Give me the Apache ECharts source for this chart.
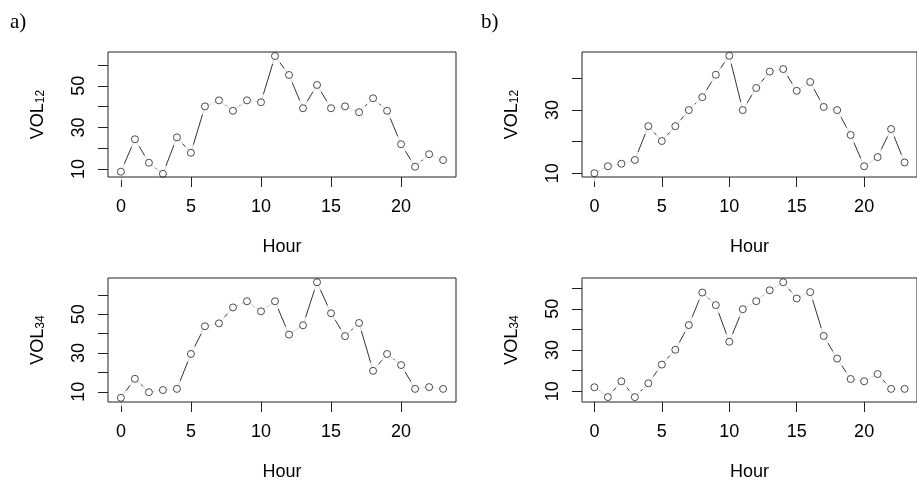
<!DOCTYPE html>
<html>
<head>
<meta charset="utf-8">
<script src="https://cdn.jsdelivr.net/npm/echarts@6/dist/echarts.min.js"></script>
<style>
  html, body { margin: 0; padding: 0; background: #fff; }
  #main { width: 917px; height: 482px; }
</style>
</head>
<body>
<div id="main"></div>
<script>
// hours of the day (x values)
const hours = [0, 1, 2, 3, 4, 5, 6, 7, 8, 9, 10, 11, 12, 13, 14, 15, 16, 17, 18, 19, 20, 21, 22, 23]

const volA12 = [8.7, 24.3, 13.0, 7.7, 25.2, 17.8, 40.1, 43.0, 38.0, 43.0, 42.1, 64.3,
  55.2, 39.2, 50.4, 39.2, 40.1, 37.3, 44.0, 38.0, 21.9, 11.1, 17.1, 14.3]
const volA34 = [6.9, 16.7, 9.8, 10.9, 11.5, 29.5, 43.8, 45.3, 53.5, 56.7, 51.5, 56.7,
  39.5, 44.3, 66.5, 50.5, 38.7, 45.5, 20.8, 29.5, 23.8, 11.5, 12.4, 11.5]
const volB12 = [10.0, 12.2, 13.0, 14.2, 24.9, 20.2, 24.9, 30.0, 34.1, 41.2, 47.2, 30.0,
  37.0, 42.2, 43.0, 36.1, 38.9, 31.0, 30.0, 22.1, 12.2, 15.1, 24.0, 13.4]
const volB34 = [11.9, 7.1, 14.8, 7.1, 13.8, 22.9, 30.1, 42.1, 57.9, 51.8, 34.0, 49.8,
  53.7, 59.0, 62.9, 55.0, 58.1, 36.8, 25.8, 15.9, 14.8, 18.3, 11.1, 11.1]

// tick marks and labelled ticks
const xTicks = [0, 5, 10, 15, 20]
const yTicks12A = [10, 20, 30, 40, 50, 60]
const yTicks12B = [10, 20, 30, 40]
const yTicks34 = [10, 20, 30, 40, 50, 60]
const yLabels12A = [10, 30, 50]
const yLabels12B = [10, 30]
const yLabels34 = [10, 30, 50]

// axis ranges
const xRange = [-0.92, 23.92]
const yRangeA12 = [6.15, 66.25]
const yRangeB12 = [8.8, 48.4]
const yRangeA34 = [4.73, 68.7]
const yRangeB34 = [4.73, 64.96]

const font = 'Liberation Sans'
const ink = '#222'

const panels = [
  { grid: { left: 108, top: 52, width: 348, height: 125 }, y: volA12, range: yRangeA12, ticks: yTicks12A, labels: yLabels12A, sub: '12' },
  { grid: { left: 582, top: 52, width: 348, height: 125 }, y: volB12, range: yRangeB12, ticks: yTicks12B, labels: yLabels12B, sub: '12' },
  { grid: { left: 108, top: 278, width: 348, height: 125 }, y: volA34, range: yRangeA34, ticks: yTicks34, labels: yLabels34, sub: '34' },
  { grid: { left: 582, top: 278, width: 348, height: 126 }, y: volB34, range: yRangeB34, ticks: yTicks34, labels: yLabels34, sub: '34' }
]

let grids = []
let xAxes = []
let yAxes = []
let series = []

panels.forEach((p, i) => {
  grids.push(Object.assign({
    show: true,
    z: 10,
    borderColor: ink,
    borderWidth: 1,
    backgroundColor: 'transparent'
  }, p.grid))
  xAxes.push({
    type: 'value',
    gridIndex: i,
    min: xRange[0],
    max: xRange[1],
    name: 'Hour',
    nameLocation: 'middle',
    nameGap: 61,
    nameTextStyle: { fontFamily: font, fontSize: 18, color: '#000' },
    splitLine: { show: false },
    axisLine: { show: false, onZero: false },
    axisTick: { show: true, length: 10, customValues: xTicks, lineStyle: { color: ink } },
    axisLabel: { customValues: xTicks, margin: 21, fontFamily: font, fontSize: 18, color: '#000' }
  })
  yAxes.push({
    type: 'value',
    gridIndex: i,
    min: p.range[0],
    max: p.range[1],
    name: '{a|VOL}{b|' + p.sub + '}',
    nameLocation: 'middle',
    nameRotate: 90,
    nameGap: 61,
    nameTextStyle: {
      color: '#000',
      rich: {
        a: { fontFamily: font, fontSize: 18, color: '#000' },
        b: { fontFamily: font, fontSize: 12, color: '#000', verticalAlign: 'bottom', padding: [6, 0, 0, 0] }
      }
    },
    splitLine: { show: false },
    axisLine: { show: false, onZero: false },
    axisTick: { show: true, length: 10, customValues: p.ticks, lineStyle: { color: ink } },
    axisLabel: { customValues: p.labels, rotate: 90, margin: 20, fontFamily: font, fontSize: 18, color: '#000' }
  })
  const pts = hours.map((h, k) => [h, p.y[k]])
  series.push({
    type: 'line',
    xAxisIndex: i,
    yAxisIndex: i,
    data: pts,
    showSymbol: false,
    lineStyle: { color: '#333', width: 1 },
    z: 2
  })
  // white discs leave the gaps round each point, as in type = "b"
  series.push({
    type: 'scatter',
    xAxisIndex: i,
    yAxisIndex: i,
    data: pts,
    symbolSize: 17,
    itemStyle: { color: '#fff' },
    silent: true,
    z: 3
  })
  series.push({
    type: 'scatter',
    xAxisIndex: i,
    yAxisIndex: i,
    data: pts,
    symbolSize: 7,
    itemStyle: { color: '#fff', borderColor: '#222', borderWidth: 1 },
    z: 4
  })
})

const chart = echarts.init(document.getElementById('main'))
chart.setOption({
  animation: false,
  backgroundColor: '#fff',
  title: [
    { text: 'a)', left: 5, top: 7, textStyle: { fontFamily: 'Liberation Serif', fontSize: 21, fontWeight: 'normal', color: '#000' } },
    { text: 'b)', left: 476, top: 7, textStyle: { fontFamily: 'Liberation Serif', fontSize: 21, fontWeight: 'normal', color: '#000' } }
  ],
  grid: grids,
  xAxis: xAxes,
  yAxis: yAxes,
  series: series
})
</script>
</body>
</html>
